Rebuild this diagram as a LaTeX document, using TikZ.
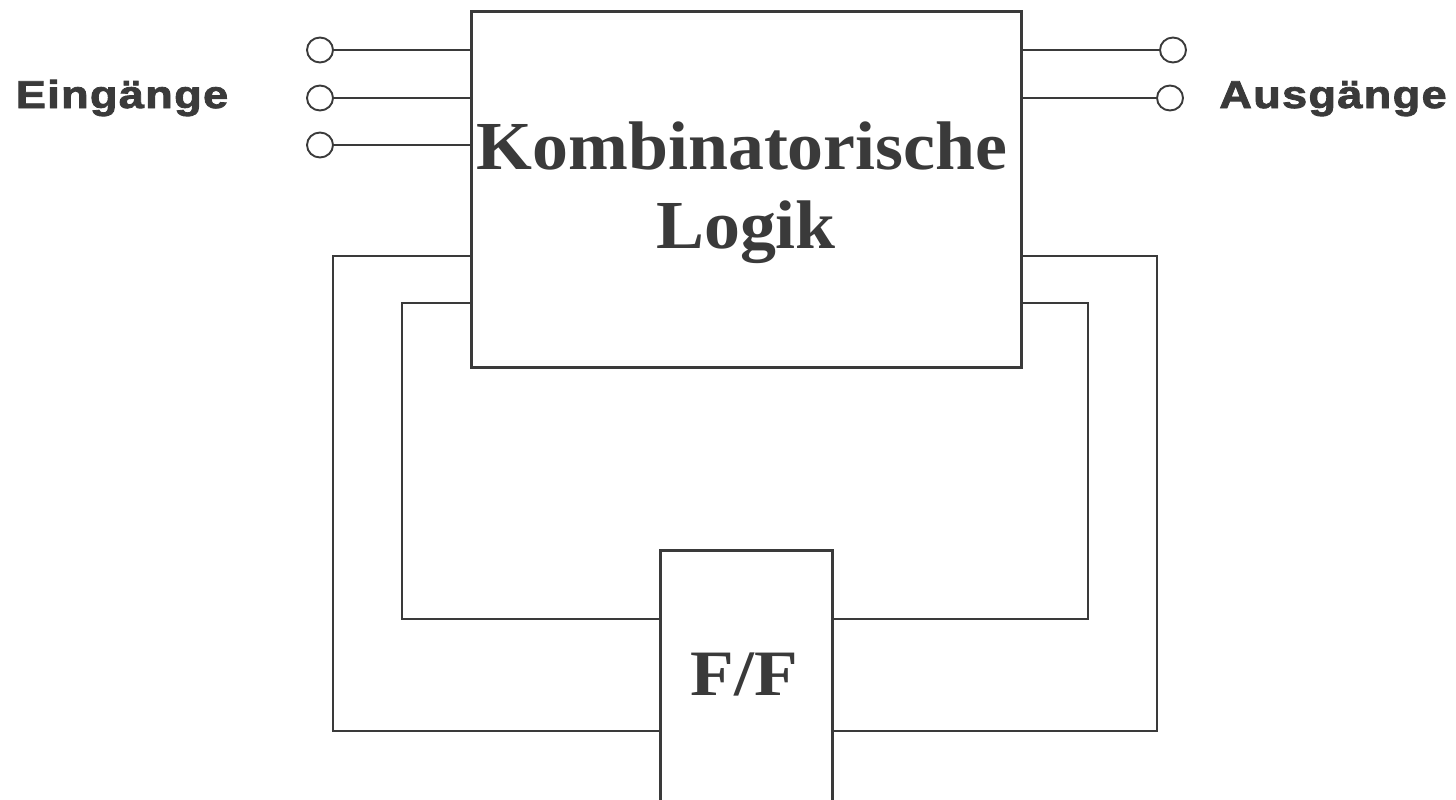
\documentclass[tikz,border=0pt]{standalone}
\usepackage{fontspec}
\setmainfont{Liberation Serif}
\newfontfamily\labelfont[LetterSpace=3, BoldFeatures={FakeBold=2}]{Liberation Sans}
\definecolor{ink}{HTML}{3A3A3A}
\tikzset{
  wire/.style={draw=ink, line width=2.5bp},
  blockbox/.style={draw=ink, line width=2.7bp, fill=white, inner sep=0pt, anchor=north west},
  pin/.style={ellipse, draw=ink, line width=1.9bp, minimum width=26bp, minimum height=25bp, inner sep=0pt},
  bigtext/.style={text=ink, inner sep=0pt, anchor=base, xscale=1.045, font=\fontsize{69}{79}\selectfont\bfseries},
  sidelabel/.style={text=ink, inner sep=0pt, anchor=base, xscale=1.16, font=\labelfont\fontsize{39}{44}\selectfont\bfseries},
}
\usetikzlibrary{shapes.geometric}
\begin{document}
\begin{tikzpicture}[x=1bp, y=-1bp]
  \useasboundingbox (0,0) rectangle (1456,799);
  \path[clip] (0,0) rectangle (1456,799);

  % combinational logic block and flip-flop
  \node[blockbox, minimum width=550bp, minimum height=356bp] (kl) at (470,10) {};
  \node[blockbox, minimum width=172bp, minimum height=320bp] (ff) at (659,549) {};

  \node[bigtext] (kltop) at (742,169) {Kombinatorische};
  \node[bigtext] (klbot) at (746,248) {Logik};
  \node[bigtext, xscale=1.055, font=\fontsize{65}{70}\selectfont\bfseries] (fftext) at (744.5,695) {F/F};

  % input and output terminals
  \node[pin] (in1) at (320,50) {};
  \node[pin] (in2) at (320,98) {};
  \node[pin] (in3) at (320,145) {};
  \node[pin] (out1) at (1173,50) {};
  \node[pin] (out2) at (1170,98) {};

  \node[sidelabel] (ein) at (122,108) {Eingänge};
  \node[sidelabel] (aus) at (1333,108) {Ausgänge};

  \foreach \p in {in1,in2,in3}
    \draw[wire] (\p.east) -- (\p.east -| kl.west);
  \foreach \p in {out1,out2}
    \draw[wire] (\p.west -| kl.east) -- (\p.west);

  % feedback loops through the flip-flop
  \coordinate (lo) at (333,256);
  \coordinate (li) at (402,303);
  \coordinate (ro) at (1157,256);
  \coordinate (ri) at (1088,303);
  \coordinate (yo) at (0,731);
  \coordinate (yi) at (0,619);

  \draw[wire] (lo -| kl.west) -- (lo) |- (yo -| ff.west);
  \draw[wire] (li -| kl.west) -- (li) |- (yi -| ff.west);
  \draw[wire] (ro -| kl.east) -- (ro) |- (yo -| ff.east);
  \draw[wire] (ri -| kl.east) -- (ri) |- (yi -| ff.east);
\end{tikzpicture}
\end{document}
